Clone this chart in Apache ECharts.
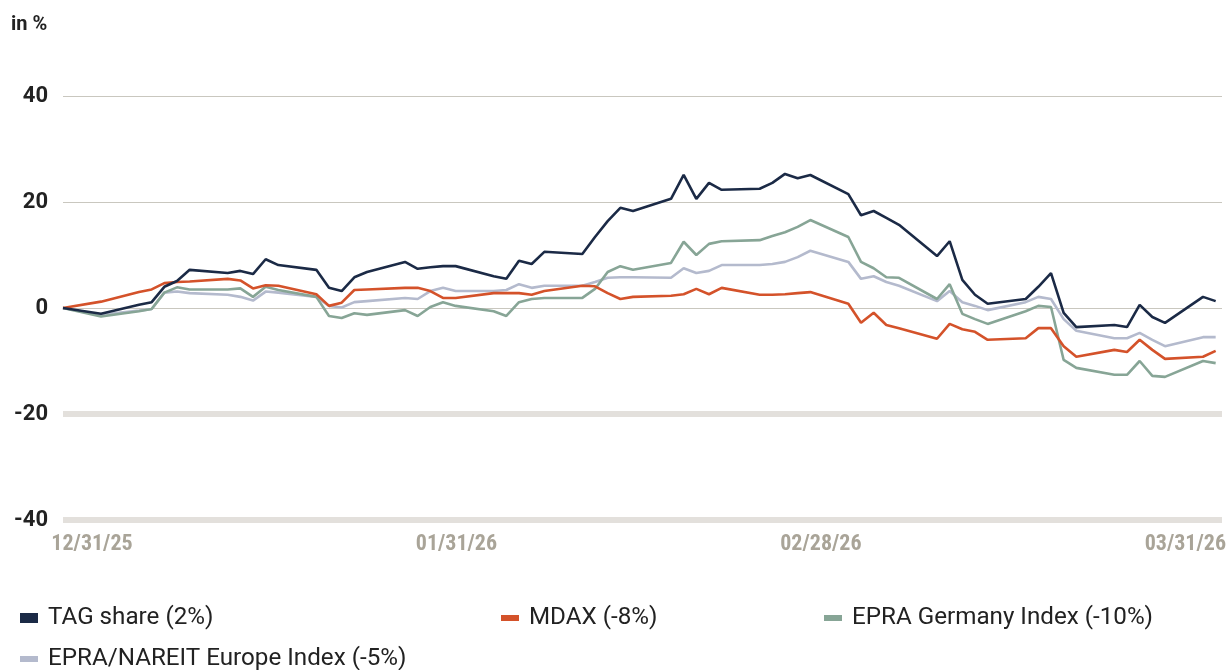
<!DOCTYPE html>
<html>
<head>
<meta charset="utf-8">
<script src="https://cdn.jsdelivr.net/npm/echarts@6/dist/echarts.min.js"></script>
<style>
html,body{margin:0;padding:0;background:#fff;}
#chart{width:1229px;height:670px;}
</style>
</head>
<body>
<div id="chart"></div>
<script>
const dates = [
  '2025-12-30','2026-01-02',
  '2026-01-05','2026-01-06','2026-01-07','2026-01-08','2026-01-09',
  '2026-01-12','2026-01-13','2026-01-14','2026-01-15','2026-01-16',
  '2026-01-19','2026-01-20','2026-01-21','2026-01-22','2026-01-23',
  '2026-01-26','2026-01-27','2026-01-28','2026-01-29','2026-01-30',
  '2026-02-02','2026-02-03','2026-02-04','2026-02-05','2026-02-06',
  '2026-02-09','2026-02-10','2026-02-11','2026-02-12','2026-02-13',
  '2026-02-16','2026-02-17','2026-02-18','2026-02-19','2026-02-20',
  '2026-02-23','2026-02-24','2026-02-25','2026-02-26','2026-02-27',
  '2026-03-02','2026-03-03','2026-03-04','2026-03-05','2026-03-06',
  '2026-03-09','2026-03-10','2026-03-11','2026-03-12','2026-03-13',
  '2026-03-16','2026-03-17','2026-03-18','2026-03-19','2026-03-20',
  '2026-03-23','2026-03-24','2026-03-25','2026-03-26','2026-03-27',
  '2026-03-30','2026-03-31'
];
const tagShare = [0,-1.1, 0.6,1.1,4.0,5.1,7.2, 6.6,7.0,6.4,9.2,8.1, 7.2,3.8,3.2,5.8,6.8, 8.7,7.4,7.7,7.9,7.9, 6.0,5.5,8.9,8.3,10.6, 10.2,13.4,16.4,18.9,18.3, 20.6,25.1,20.6,23.6,22.3, 22.5,23.6,25.3,24.5,25.1, 21.5,17.5,18.3,17.0,15.7, 9.8,12.6,5.3,2.5,0.8, 1.7,4.0,6.6,-0.9,-3.6, -3.2,-3.6,0.6,-1.7,-2.8, 2.1,1.3];
const mdax = [0,1.2, 3.0,3.5,4.7,4.9,5.0, 5.5,5.2,3.7,4.3,4.2, 2.6,0.4,1.0,3.4,3.5, 3.8,3.8,3.2,1.9,1.9, 2.8,2.8,2.8,2.5,3.2, 4.2,4.1,2.8,1.7,2.1, 2.3,2.6,3.6,2.6,3.8, 2.5,2.5,2.6,2.8,3.0, 0.8,-2.8,-0.9,-3.2,-3.8, -5.8,-3.0,-4.0,-4.5,-6.0, -5.7,-3.8,-3.8,-7.2,-9.2, -7.9,-8.3,-6.0,-7.9,-9.6, -9.2,-8.1];
const epraGermany = [0,-1.6, -0.6,-0.2,2.9,3.9,3.5, 3.5,3.7,2.1,4.0,3.4, 2.1,-1.5,-1.9,-1.0,-1.3, -0.4,-1.5,0.2,1.1,0.4, -0.6,-1.5,1.1,1.7,1.9, 1.9,3.6,6.8,7.9,7.2, 8.5,12.5,10.0,12.1,12.6, 12.8,13.6,14.3,15.3,16.6, 13.4,8.7,7.5,5.8,5.7, 1.7,4.5,-1.1,-2.1,-3.0, -0.6,0.4,0.2,-9.8,-11.3, -12.6,-12.6,-10.0,-12.8,-13.0, -10.0,-10.4];
const epraEurope = [0,-1.3, -0.5,-0.2,2.9,3.1,2.8, 2.5,2.1,1.4,3.1,2.9, 2.1,0.4,0.1,1.1,1.3, 1.9,1.7,3.2,3.8,3.2, 3.2,3.4,4.5,3.8,4.2, 4.2,4.9,5.7,5.8,5.8, 5.7,7.5,6.6,7.0,8.1, 8.1,8.3,8.7,9.6,10.8, 8.7,5.5,6.0,4.9,4.2, 1.3,3.2,1.1,0.4,-0.4, 1.1,2.1,1.7,-2.1,-4.3, -5.7,-5.7,-4.7,-6.0,-7.2, -5.5,-5.5];

const xTickLabels = ['12/31/25','01/31/26','02/28/26','03/31/26'];
const seriesNames = ['TAG share (2%)','MDAX (-8%)','EPRA Germany Index (-10%)','EPRA/NAREIT Europe Index (-5%)'];
const colors = ['#1b2a46','#d4522a','#87a596','#b4bacd'];

const pair = vals => dates.map((d,i)=>[d, vals[i]]);
const condensed = "'Roboto Condensed', 'DejaVu Sans Condensed', sans-serif";

function legend(name, left, top, h){
  return {
    data:[name], left:left, top:top, orient:'horizontal',
    icon:'rect', itemWidth:18, itemHeight:h, itemGap:0,
    padding:0, selectedMode:false,
    textStyle:{fontFamily:'Roboto', fontSize:24.2, color:'#222', padding:[0,0,0,5]}
  };
}

const chart = echarts.init(document.getElementById('chart'), null, {renderer:'canvas'});
chart.setOption({
  animation:false,
  backgroundColor:'#fff',
  title:{text:'in %', left:11, top:15, padding:0, textStyle:{fontFamily:'Roboto', fontWeight:'bold', fontSize:20, color:'#222'}},
  legend:[
    legend(seriesNames[0], 20, 606, 10),
    legend(seriesNames[1], 501, 606, 6),
    legend(seriesNames[2], 824, 606, 6),
    legend(seriesNames[3], 20, 647, 6)
  ],
  grid:[
    {left:63, right:7, top:96, bottom:150},
    {left:92, right:43, top:520, height:1}
  ],
  xAxis:[
    {type:'time', gridIndex:0, min:'2025-12-30', max:'2026-03-31 12:00',
     axisLine:{show:false}, axisTick:{show:false}, axisLabel:{show:false}, splitLine:{show:false}},
    {type:'category', gridIndex:1, data:xTickLabels, boundaryGap:false,
     axisLine:{show:false}, axisTick:{show:false}, splitLine:{show:false},
     axisLabel:{show:true, interval:0, margin:12, fontFamily:condensed, fontWeight:'bold', fontSize:22, color:'#a9a498'}}
  ],
  yAxis:[
    {type:'value', gridIndex:0, min:-40, max:40, interval:20,
     axisLine:{show:false}, axisTick:{show:false},
     axisLabel:{margin:15, fontFamily:'Roboto', fontWeight:'bold', fontSize:22, color:'#222'},
     splitLine:{lineStyle:{color:['#e3e0dc','#e3e0dc','#c9c7bf','#c9c7bf','#c9c7bf'], width:1.2}}},
    {type:'value', gridIndex:1, show:false}
  ],
  series:[
    {name:seriesNames[3], type:'line', data:pair(epraEurope), showSymbol:false, symbol:'none',
     lineStyle:{width:2.6, color:colors[3]}, itemStyle:{color:colors[3]},
     markLine:{silent:true, symbol:'none', label:{show:false},
       lineStyle:{type:'solid', color:'#e3e0dc', width:6},
       data:[{yAxis:-20},{yAxis:-40}]}},
    {name:seriesNames[2], type:'line', data:pair(epraGermany), showSymbol:false, symbol:'none',
     lineStyle:{width:2.6, color:colors[2]}, itemStyle:{color:colors[2]}},
    {name:seriesNames[1], type:'line', data:pair(mdax), showSymbol:false, symbol:'none',
     lineStyle:{width:2.6, color:colors[1]}, itemStyle:{color:colors[1]}},
    {name:seriesNames[0], type:'line', data:pair(tagShare), showSymbol:false, symbol:'none',
     lineStyle:{width:2.6, color:colors[0]}, itemStyle:{color:colors[0]}}
  ]
});
</script>
</body>
</html>
